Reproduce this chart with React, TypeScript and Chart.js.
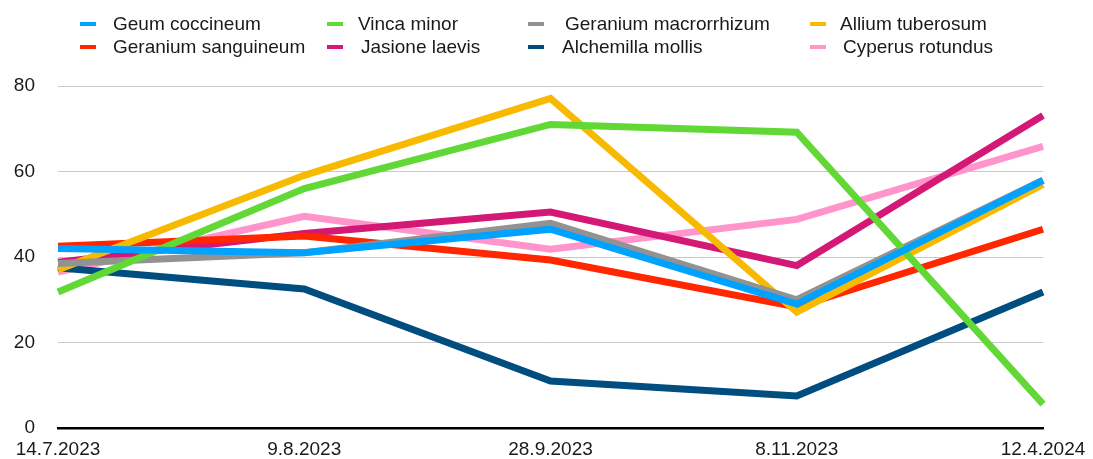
import React, { useEffect, useRef } from "react";
import { Chart, registerables } from "chart.js";

Chart.register(...registerables);

const labels = ["14.7.2023", "9.8.2023", "28.9.2023", "8.11.2023", "12.4.2024"];

const geumCoccineum = [42, 41, 46.5, 29, 57.9];
const vincaMinor = [31.8, 56, 71, 69.2, 5.6];
const geraniumMacrorrhizum = [38.5, 41, 47.9, 30, 58];
const alliumTuberosum = [37, 59.1, 77.1, 27.1, 57];
const geraniumSanguineum = [42.5, 44.9, 39.3, 28.3, 46.5];
const jasioneLaevis = [38.8, 45.5, 50.5, 38, 73.1];
const alchemillaMollis = [37.5, 32.5, 11, 7.5, 31.8];
const cyperusRotundus = [36.5, 49.5, 41.8, 48.8, 65.9];

const yTicks = [0, 20, 40, 60, 80];

const seriesNames = [
  "Geum coccineum",
  "Vinca minor",
  "Geranium macrorrhizum",
  "Allium tuberosum",
  "Geranium sanguineum",
  "Jasione laevis",
  "Alchemilla mollis",
  "Cyperus rotundus",
];
const seriesValues = [
  geumCoccineum,
  vincaMinor,
  geraniumMacrorrhizum,
  alliumTuberosum,
  geraniumSanguineum,
  jasioneLaevis,
  alchemillaMollis,
  cyperusRotundus,
];
const seriesColors = [
  "#00A2FF",
  "#61D836",
  "#929292",
  "#F8BA00",
  "#FF2600",
  "#D31876",
  "#004D80",
  "#FF95CA",
];

// legend layout: [markerLeft, textLeft, top]
const legendPos = [
  [80, 113, 24],
  [327, 358, 24],
  [528, 565, 24],
  [810, 840, 24],
  [80, 113, 47],
  [327, 361, 47],
  [528, 562, 47],
  [810, 843, 47],
];

const FONT = "'Liberation Sans', Arial, Helvetica, sans-serif";

export default function App() {
  const ref = useRef<HTMLCanvasElement | null>(null);

  useEffect(() => {
    if (!ref.current) return;
    const chart = new Chart(ref.current, {
      type: "line",
      data: {
        labels,
        datasets: seriesNames.map((name, i) => ({
          label: name,
          data: seriesValues[i],
          borderColor: seriesColors[i],
          backgroundColor: seriesColors[i],
          borderWidth: 7,
          pointRadius: 0,
          pointHoverRadius: 0,
          tension: 0,
          borderJoinStyle: "miter" as const,
          borderCapStyle: "butt" as const,
          fill: false,
        })),
      },
      options: {
        animation: false,
        responsive: true,
        maintainAspectRatio: false,
        layout: { padding: { top: 86, right: 50, left: 0, bottom: 0 } },
        plugins: {
          legend: { display: false },
          tooltip: { enabled: false },
        },
        scales: {
          x: {
            type: "category",
            offset: false,
            grid: { display: false, drawTicks: false },
            border: { display: true, color: "#000000", width: 2.5 },
            ticks: {
              color: "#1a1a1a",
              font: { family: FONT, size: 19 },
              padding: 10,
              maxRotation: 0,
              autoSkip: false,
            },
            afterFit: (scale: any) => {
              scale.height = 31;
              scale.paddingLeft = 0;
              scale.paddingRight = 0;
            },
          },
          y: {
            min: 0,
            max: 80,
            afterBuildTicks: (scale: any) => {
              scale.ticks = yTicks.map((v) => ({ value: v }));
            },
            grid: {
              drawTicks: false,
              color: (ctx: any) =>
                ctx.tick && ctx.tick.value === 0 ? "rgba(0,0,0,0)" : "#c8c8c8",
              lineWidth: 1,
            },
            border: { display: false },
            ticks: {
              color: "#1a1a1a",
              font: { family: FONT, size: 19 },
              padding: 23,
            },
            afterFit: (scale: any) => {
              scale.width = 58;
              scale.paddingTop = 0;
              scale.paddingBottom = 0;
            },
          },
        },
      },
    });
    return () => chart.destroy();
  }, []);

  return (
    <div
      style={{
        position: "absolute",
        left: 0,
        top: 0,
        width: 1093,
        height: 459,
        background: "#ffffff",
        fontFamily: FONT,
      }}
    >
      <canvas ref={ref} style={{ position: "absolute", left: 0, top: 0 }} />
      {seriesNames.map((name, i) => (
        <React.Fragment key={name}>
          <div
            style={{
              position: "absolute",
              left: legendPos[i][0],
              top: legendPos[i][2] - 2,
              width: 16,
              height: 4,
              background: seriesColors[i],
            }}
          />
          <div
            style={{
              position: "absolute",
              left: legendPos[i][1],
              top: legendPos[i][2] - 11,
              fontSize: 19,
              lineHeight: "22px",
              color: "#1a1a1a",
              whiteSpace: "nowrap",
            }}
          >
            {name}
          </div>
        </React.Fragment>
      ))}
    </div>
  );
}
